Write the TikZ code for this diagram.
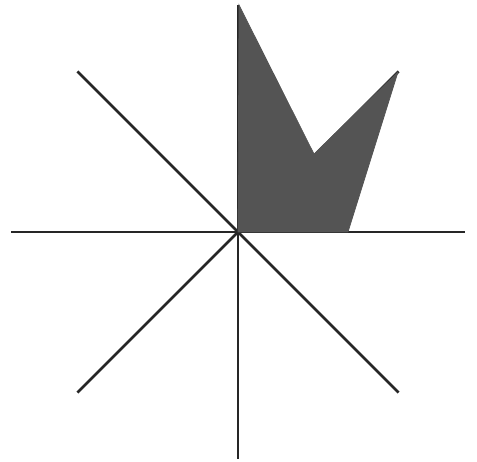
\documentclass[tikz,border=0pt]{standalone}
\usetikzlibrary{calc}

\begin{document}
\begin{tikzpicture}[
		x=0.02cm, y=0.02cm,
		% Style for the eight rays
		ray/.style={draw=black!85, line width=1.6pt},
		% Style for the shaded figure
		flag/.style={fill=black!67, draw=black!67, line width=0.4pt}
		]
		
		% --- frame of the picture ---
		\useasboundingbox (-238,-230) rectangle (239,232);
		
		\coordinate (centre) at (0,0);
		
		% --- 1. The rays ---
		\foreach \ang in {0,45,...,315} {
			\draw[ray] (centre) -- ++(\ang:227);
		}
		
		% --- 2. The shaded figure ---
		\coordinate (top) at (1,227);
		\coordinate (notch) at (76,78);
		\coordinate (tip) at (160,160);
		\coordinate (foot) at (110,0);
		\fill[flag] (centre) -- (top) -- (notch) -- (tip) -- (foot) -- cycle;
		
	\end{tikzpicture}
\end{document}
